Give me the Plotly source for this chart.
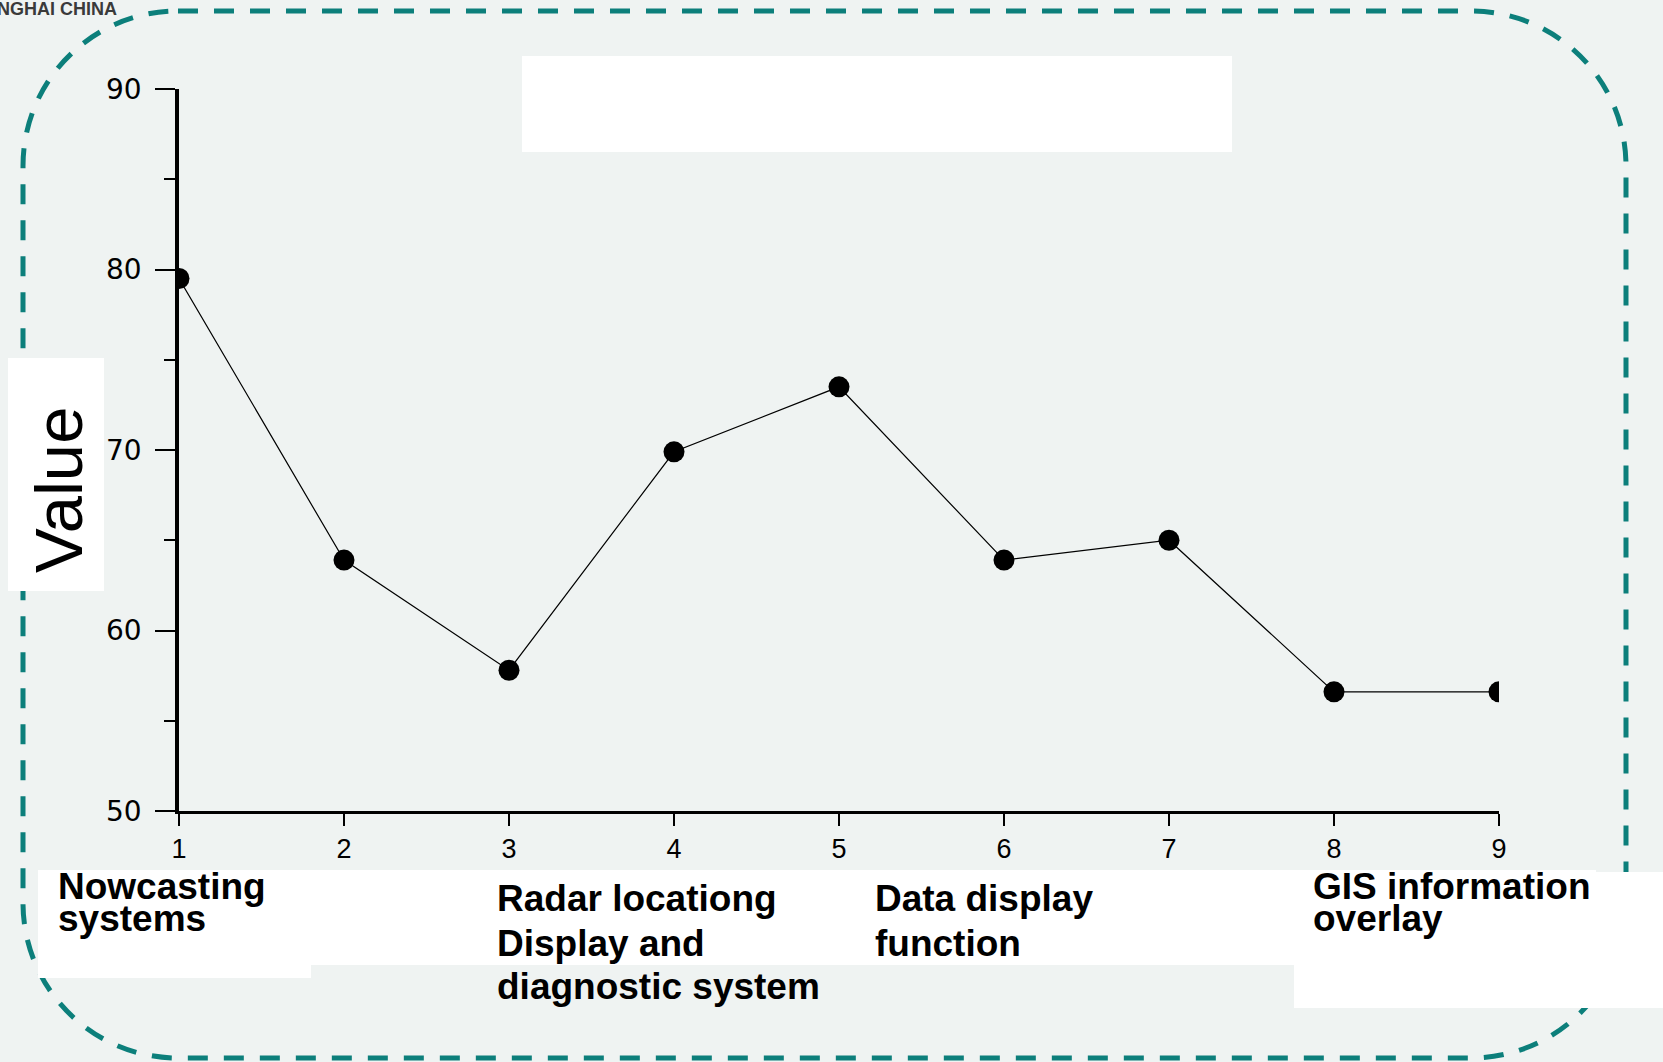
import plotly.graph_objects as go

# Scores per module (x = module index 1..9)
module_index = [1, 2, 3, 4, 5, 6, 7, 8, 9]
module_value = [79.5, 63.9, 57.8, 69.9, 73.5, 63.9, 65.0, 56.6, 56.6]

x_tick_values = [1, 2, 3, 4, 5, 6, 7, 8, 9]
y_tick_values = [50, 60, 70, 80, 90]

# Category captions placed under the axis (one entry per text line)
caption_lines = [
    "Nowcasting", "systems",
    "Radar locationg", "Display and", "diagnostic system",
    "Data display", "function",
    "GIS information", "overlay",
]
axis_title = "Value"
brand_text = "SHANGHAI CHINA"

# ---- page geometry (pixels) ----
FIG_W, FIG_H = 1663, 1062
PL, PR, PT, PB = 179, 1499, 89, 811          # plot-area edges
PW, PH = PR - PL, PB - PT
BG = "#eff3f2"
TEAL = "#0c7f7b"


def px(xp):
    return (xp - PL) / PW


def py(yp):
    return (PB - yp) / PH


def rounded_rect_path(x0, y0, x1, y1, r):
    k = 0.5523 * r
    pts = [
        ("M", [(x0 + r, y0)]),
        ("L", [(x1 - r, y0)]),
        ("C", [(x1 - r + k, y0), (x1, y0 + r - k), (x1, y0 + r)]),
        ("L", [(x1, y1 - r)]),
        ("C", [(x1, y1 - r + k), (x1 - r + k, y1), (x1 - r, y1)]),
        ("L", [(x0 + r, y1)]),
        ("C", [(x0 + r - k, y1), (x0, y1 - r + k), (x0, y1 - r)]),
        ("L", [(x0, y0 + r)]),
        ("C", [(x0, y0 + r - k), (x0 + r - k, y0), (x0 + r, y0)]),
    ]
    parts = []
    for cmd, coords in pts:
        parts.append(cmd + " ".join(f"{px(a):.5f},{py(b):.5f}" for a, b in coords))
    return " ".join(parts) + " Z"


fig = go.Figure()

fig.add_trace(go.Scatter(
    x=module_index,
    y=module_value,
    mode="lines+markers",
    line=dict(color="black", width=1.2),
    marker=dict(symbol="circle", size=21, color="black"),
    showlegend=False,
    hoverinfo="x+y",
))

shapes = [
    # dashed rounded frame
    dict(type="path", xref="paper", yref="paper",
         path=rounded_rect_path(23, 11, 1626, 1058, 155),
         line=dict(color=TEAL, width=5, dash="20px,16px"),
         fillcolor="rgba(0,0,0,0)", layer="below"),
]

# white panels
white_boxes = [
    (522, 56, 1232, 152),
    (8, 358, 104, 591),
    (38, 870, 1596, 965),
    (38, 870, 311, 978),
    (1294, 872, 1663, 1008),
]
for (x0, y0, x1, y1) in white_boxes:
    shapes.append(dict(type="rect", xref="paper", yref="paper",
                       x0=px(x0), x1=px(x1), y0=py(y1), y1=py(y0),
                       line=dict(width=0), fillcolor="white", layer="below"))

# caption placement: (left x, centre y) in pixels for each caption line
caption_pos = [
    (56, 887), (56, 918),
    (495, 898), (495, 943), (495, 987),
    (873, 898), (873, 943),
    (1311, 887), (1311, 918),
]
annotations = []
for text, (xl, yc) in zip(caption_lines, caption_pos):
    annotations.append(dict(
        text=text, xref="paper", yref="paper", x=px(xl), y=py(yc),
        xanchor="left", yanchor="middle", showarrow=False,
        font=dict(family="Liberation Sans, Arial, sans-serif", size=37,
                  color="black", weight="bold"),
    ))

annotations.append(dict(
    text=axis_title, xref="paper", yref="paper", x=px(58), y=py(490),
    xanchor="center", yanchor="middle", textangle=-90, showarrow=False,
    font=dict(family="Liberation Sans, Arial, sans-serif", size=67, color="black"),
))

annotations.append(dict(
    text=brand_text, xref="paper", yref="paper", x=px(119), y=py(9),
    xanchor="right", yanchor="middle", showarrow=False,
    font=dict(family="Liberation Sans, Arial, sans-serif",
              size=18, color="#3a3a3a", weight="bold"),
))

fig.update_layout(
    width=FIG_W, height=FIG_H,
    margin=dict(l=PL, r=FIG_W - PR, t=PT, b=FIG_H - PB, autoexpand=False),
    paper_bgcolor=BG, plot_bgcolor=BG,
    shapes=shapes,
    annotations=annotations,
    xaxis=dict(
        range=[1, 9], tickvals=x_tick_values, showgrid=False, zeroline=False,
        showline=True, linecolor="black", linewidth=2.5,
        ticks="outside", ticklen=12, tickwidth=2, tickcolor="black",
        ticklabelstandoff=0,
        tickfont=dict(family="Liberation Sans, Arial, sans-serif", size=27, color="black"),
    ),
    yaxis=dict(
        range=[50, 90], tickvals=y_tick_values, showgrid=False, zeroline=False,
        showline=True, linecolor="black", linewidth=3.5,
        ticks="outside", ticklen=20, tickwidth=2, tickcolor="black",
        ticklabelstandoff=8,
        minor=dict(dtick=5, ticks="outside", ticklen=11, tickwidth=2,
                   tickcolor="black", showgrid=False),
        tickfont=dict(family="DejaVu Sans, sans-serif", size=28, color="black"),
    ),
)

fig.write_html("out.html")
